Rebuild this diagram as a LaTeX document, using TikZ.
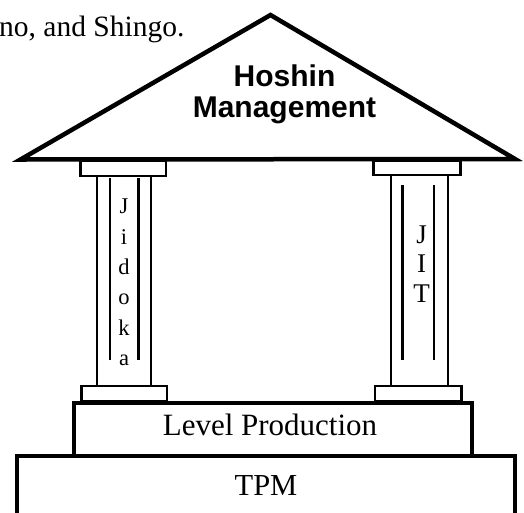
\documentclass[tikz,border=0pt]{standalone}
\usepackage{fontspec}
\setmainfont{Liberation Serif}
\setsansfont{Liberation Sans}
\begin{document}
\begin{tikzpicture}[x=1pt,y=-1pt,
  thinline/.style={line width=2pt},
  boxline/.style={line width=4pt, fill=white},
  partline/.style={line width=2.2pt, fill=white},
  innerline/.style={line width=2.6pt},
  rooftext/.style={font=\sffamily\bfseries\fontsize{30}{36}\selectfont, anchor=base, inner sep=0pt},
  serifbig/.style={font=\fontsize{31}{37}\selectfont, anchor=base, inner sep=0pt},
  letterL/.style={font=\fontsize{22.5}{26}\selectfont, anchor=base, inner sep=0pt},
  letterR/.style={font=\fontsize{27}{32}\selectfont, anchor=base, inner sep=0pt}]
\useasboundingbox (0,0) rectangle (524,512);
\begin{scope}
\clip (0,0) rectangle (524,512);
% caption fragment
\node[font=\fontsize{29.5}{35}\selectfont, anchor=base west, inner sep=0pt] (cap) at (-1,36.5) {no, and Shingo.};
% foundation
\draw[boxline] (17,456) rectangle (515,540);
\node[serifbig, font=\fontsize{30.5}{36}\selectfont] (tpm) at (266,495) {TPM};
\draw[boxline] (74,403) rectangle (472,456);
\node[serifbig] (lp) at (270,435) {Level Production};
% left pillar
\draw[partline] (97,176) rectangle (151,386);
\draw[partline] (81.5,386) rectangle (167,401.5);
\draw[partline] (80.5,161) rectangle (166,176);
\draw[innerline] (110,178) -- (110,360);
\draw[innerline] (138.5,178) -- (138.5,360);
\node[letterL] (j1) at (124,213.5) {J};
\node[letterL] (i1) at (124,244) {i};
\node[letterL] (d1) at (124,274.5) {d};
\node[letterL] (o1) at (124,304.5) {o};
\node[letterL] (k1) at (124,335) {k};
\node[letterL] (a1) at (124,365) {a};
% right pillar
\draw[partline] (391,175) rectangle (448,386);
\draw[partline] (375,386) rectangle (461.5,401.5);
\draw[partline] (373.5,161) rectangle (460.5,175);
\draw[innerline] (402.5,185) -- (402.5,360);
\draw[innerline] (434,185) -- (434,360);
\node[letterR] (j2) at (421.5,243) {J};
\node[letterR] (i2) at (421.5,272.5) {I};
\node[letterR] (t2) at (421.5,302) {T};
% roof
\draw[line width=4.5pt, line join=miter, miter limit=20, fill=white]
  (20.5,159.5) -- (270.5,15) -- (515,159) -- cycle;
\node[rooftext] (hoshin) at (284.5,86.5) {Hoshin};
\node[rooftext] (mgmt) at (284.5,117.5) {Management};
\end{scope}
\end{tikzpicture}
\end{document}
